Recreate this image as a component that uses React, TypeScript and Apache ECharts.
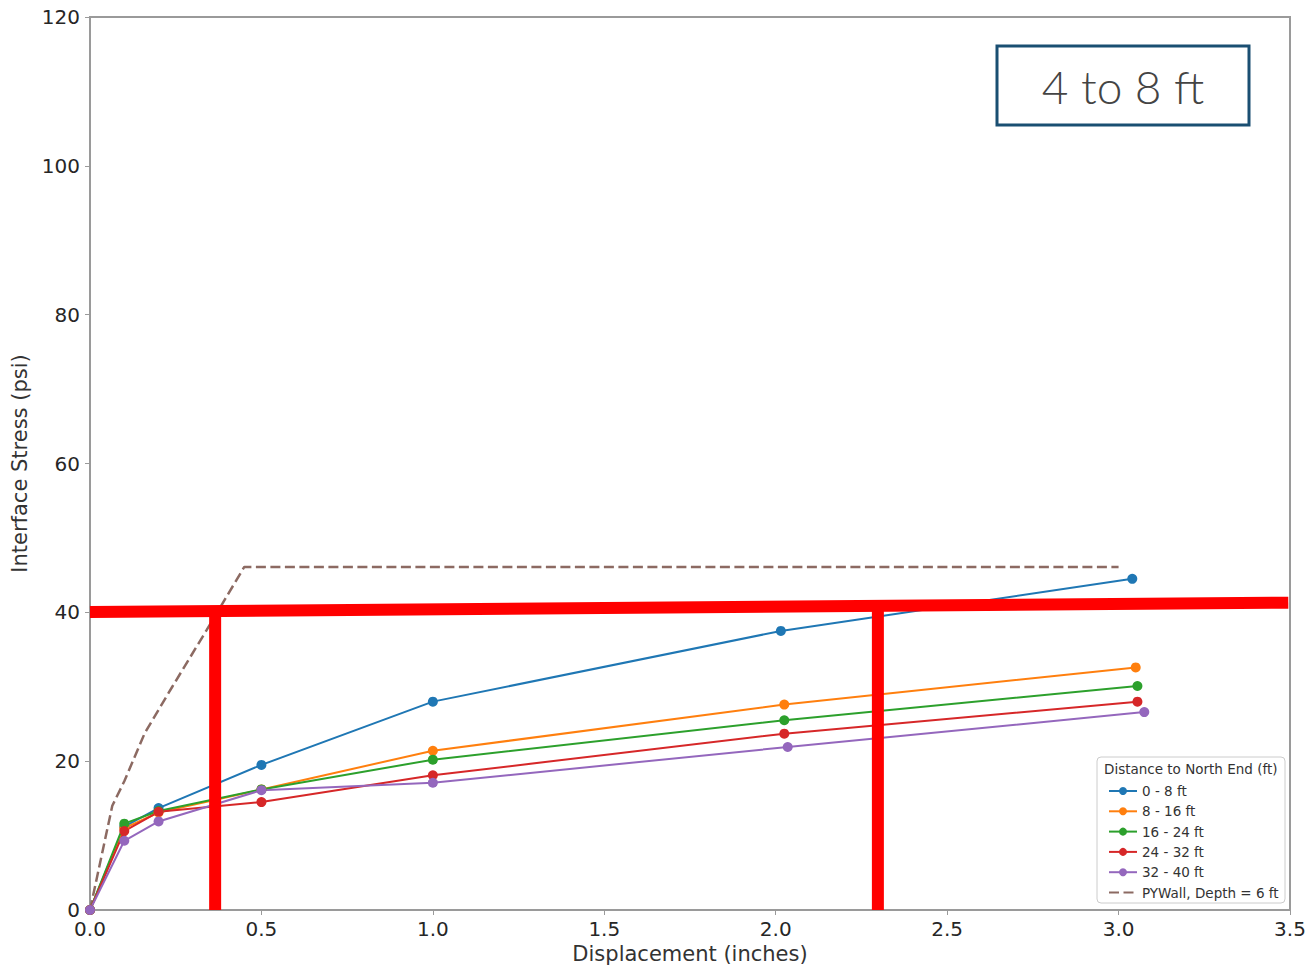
import React, { useEffect, useRef } from "react";
import * as echarts from "echarts";

const seriesNames = ["0 - 8 ft", "8 - 16 ft", "16 - 24 ft", "24 - 32 ft", "32 - 40 ft"];
const seriesColors = ["#1f77b4", "#ff7f0e", "#2ca02c", "#d62728", "#9467bd"];

const s0_8 = [[0, 0], [0.1, 11.2], [0.2, 13.7], [0.5, 19.5], [1.0, 28.0], [2.015, 37.5], [3.04, 44.5]];
const s8_16 = [[0, 0], [0.1, 11.0], [0.2, 13.1], [0.5, 16.2], [1.0, 21.4], [2.025, 27.6], [3.05, 32.6]];
const s16_24 = [[0, 0], [0.1, 11.6], [0.2, 13.3], [0.5, 16.2], [1.0, 20.2], [2.025, 25.5], [3.055, 30.1]];
const s24_32 = [[0, 0], [0.1, 10.6], [0.2, 13.2], [0.5, 14.5], [1.0, 18.1], [2.025, 23.7], [3.055, 28.0]];
const s32_40 = [[0, 0], [0.1, 9.3], [0.2, 11.9], [0.5, 16.1], [1.0, 17.1], [2.035, 21.9], [3.075, 26.6]];
const seriesData = [s0_8, s8_16, s16_24, s24_32, s32_40];

const pyWallName = "PYWall, Depth = 6 ft";
const pyWall = [[0, 0], [0.065, 14.0], [0.1, 17.3], [0.16, 23.8], [0.24, 30.0], [0.34, 37.6], [0.45, 46.1], [3.0, 46.1]];

// hand-drawn red annotation lines (data coordinates)
const redHorizontal = [[0, 40.05], [3.495, 41.3]];
const redVerticalA = [[0.365, 0], [0.365, 40.1]];
const redVerticalB = [[2.298, 0], [2.298, 40.6]];

const legendTitle = "Distance to North End (ft)";
const boxLabel = "4 to 8 ft";
const xName = "Displacement (inches)";
const yName = "Interface Stress (psi)";

export default function App() {
  const ref = useRef<HTMLDivElement>(null);
  useEffect(() => {
    if (!ref.current) return;
    const chart = echarts.init(ref.current, null, { renderer: "svg" });
    const font = "DejaVu Sans";
    const axisColor = "#9a9a9a";
    const series: any[] = seriesData.map((d, i) => ({
      name: seriesNames[i],
      type: "line",
      data: d,
      symbol: "circle",
      symbolSize: 10,
      showSymbol: true,
      lineStyle: { width: 2, color: seriesColors[i] },
      itemStyle: { color: seriesColors[i] },
      z: 3,
    }));
    series.push({
      name: pyWallName,
      type: "line",
      data: pyWall,
      symbol: "none",
      lineStyle: { width: 2.5, color: "#8c6a62", type: [10, 4.5] },
      itemStyle: { color: "#8c6a62" },
      z: 2,
    });
    [redHorizontal, redVerticalA, redVerticalB].forEach((d) => {
      series.push({
        type: "line",
        data: d,
        symbol: "none",
        silent: true,
        clip: false,
        lineStyle: { width: 12, color: "#ff0000", cap: "butt" },
        z: 10,
        legendHoverLink: false,
      });
    });
    chart.setOption({
      animation: false,
      backgroundColor: "#ffffff",
      grid: {
        left: 90,
        right: 19,
        top: 17,
        bottom: 57,
        containLabel: false,
        outerBoundsMode: "none",
        show: true,
        borderColor: axisColor,
        borderWidth: 2,
      },
      xAxis: {
        type: "value",
        min: 0,
        max: 3.5,
        interval: 0.5,
        name: xName,
        nameLocation: "middle",
        nameGap: 30,
        nameTextStyle: { fontFamily: font, fontSize: 21, color: "#333" },
        axisLine: { show: true, lineStyle: { color: axisColor, width: 2 } },
        axisTick: { show: true, length: 5, lineStyle: { color: axisColor } },
        axisLabel: {
          fontFamily: font,
          fontSize: 20,
          lineHeight: 18,
          color: "#262626",
          margin: 10,
          formatter: (v: number) => v.toFixed(1),
        },
        splitLine: { show: false },
      },
      yAxis: {
        type: "value",
        min: 0,
        max: 120,
        interval: 20,
        name: yName,
        nameLocation: "middle",
        nameGap: 57,
        nameTextStyle: { fontFamily: font, fontSize: 21, color: "#333" },
        axisLine: { show: true, lineStyle: { color: axisColor, width: 2 } },
        axisTick: { show: true, length: 5, lineStyle: { color: axisColor } },
        axisLabel: { fontFamily: font, fontSize: 20, lineHeight: 18, color: "#262626", margin: 10 },
        splitLine: { show: false },
      },
      legend: {
        data: [
          ...seriesNames,
          { name: pyWallName, itemStyle: { color: "rgba(0,0,0,0)", borderWidth: 0, opacity: 0 } },
        ],
        orient: "vertical",
        left: 1103,
        top: 779,
        itemWidth: 28,
        itemHeight: 10,
        itemGap: 6.3,
        textStyle: { fontFamily: font, fontSize: 13.5, color: "#333" },
        z: 20,
      },
      graphic: [
        {
          type: "rect",
          shape: { x: 1097, y: 757, width: 188, height: 146, r: 4 },
          style: { fill: "rgba(255,255,255,0.85)", stroke: "#cccccc", lineWidth: 1 },
          z: 15,
        },
        {
          type: "text",
          x: 1104,
          y: 769,
          style: {
            text: legendTitle,
            fontFamily: font,
            fontSize: 13.5,
            fill: "#333",
            verticalAlign: "middle",
          },
          z: 16,
        },
        {
          type: "rect",
          shape: { x: 997, y: 46, width: 252, height: 79 },
          style: { fill: "#ffffff", stroke: "#1a4f72", lineWidth: 3 },
          z: 15,
        },
        {
          type: "text",
          x: 1123,
          y: 86,
          style: {
            text: boxLabel,
            fontFamily: "Lato",
            fontWeight: 300,
            fontSize: 46,
            fill: "#444444",
            align: "center",
            verticalAlign: "middle",
          },
          z: 16,
        },
      ],
      series,
    });
    return () => chart.dispose();
  }, []);
  return (
    <div
      ref={ref}
      style={{ position: "absolute", left: 0, top: 0, width: 1309, height: 967 }}
    />
  );
}
